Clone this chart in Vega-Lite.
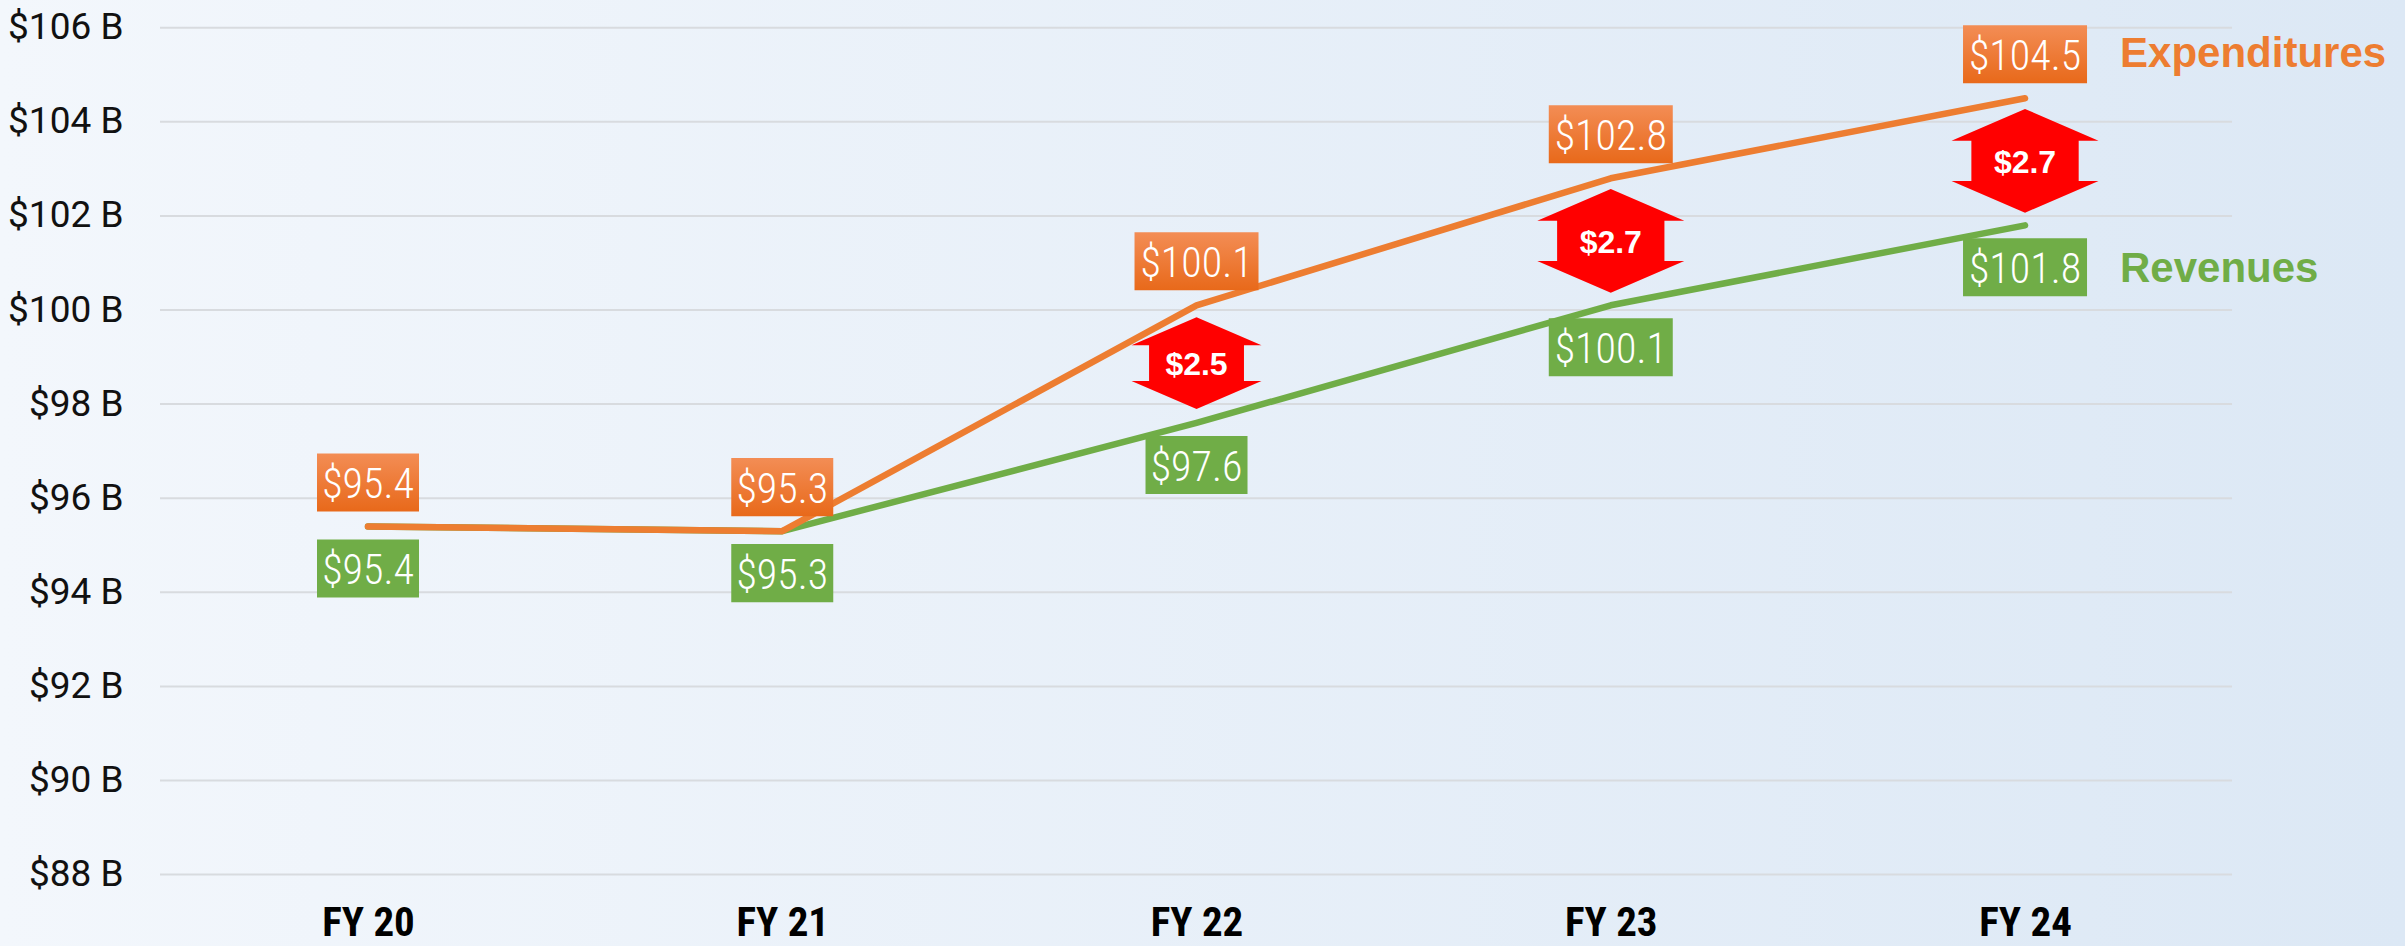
{
  "$schema": "https://vega.github.io/schema/vega-lite/v6.json",
  "width": 2405,
  "height": 946,
  "autosize": {"type": "none"},
  "padding": 0,
  "background": "#E9F0F8",
  "config": {
    "view": {
      "stroke": null,
      "fill": {"gradient": "linear", "x1": 0, "y1": 0, "x2": 1, "y2": 0,
        "stops": [{"offset": 0, "color": "#F3F7FC"}, {"offset": 1, "color": "#DCE8F5"}]}
    }
  },
  "data": {"values": [
    {"year": "FY 20", "series": "Expenditures", "value": 95.4},
    {"year": "FY 21", "series": "Expenditures", "value": 95.3},
    {"year": "FY 22", "series": "Expenditures", "value": 100.1},
    {"year": "FY 23", "series": "Expenditures", "value": 102.8},
    {"year": "FY 24", "series": "Expenditures", "value": 104.5},
    {"year": "FY 20", "series": "Revenues", "value": 95.4},
    {"year": "FY 21", "series": "Revenues", "value": 95.3},
    {"year": "FY 22", "series": "Revenues", "value": 97.6},
    {"year": "FY 23", "series": "Revenues", "value": 100.1},
    {"year": "FY 24", "series": "Revenues", "value": 101.8}
  ]},
  "encoding": {
    "x": {
      "field": "year", "type": "ordinal",
      "scale": {"type": "point", "domain": ["FY 20", "FY 21", "FY 22", "FY 23", "FY 24"], "padding": 0.9028, "align": 0.492},
      "axis": {"title": null, "labelAngle": 0, "domain": false, "ticks": false, "grid": false, "offset": -11, "labelPadding": 0, "labelBaseline": "alphabetic",
        "labelFont": "'Liberation Sans Narrow', 'Roboto Condensed', 'DejaVu Sans Condensed', sans-serif", "labelFontSize": 41, "labelFontWeight": "bold", "labelColor": "#000000"}
    },
    "y": {
      "field": "value", "type": "quantitative",
      "scale": {"domain": [86.4825, 106.589], "zero": false, "nice": false},
      "axis": {"title": null, "values": [88, 90, 92, 94, 96, 98, 100, 102, 104, 106], "labelExpr": "'$' + datum.label + ' B'", "domain": false, "ticks": false, "grid": false, "offset": -160, "labelPadding": 37,
        "labelFont": "Roboto, sans-serif", "labelFontSize": 37, "labelColor": "#111111"}
    }
  },
  "layer": [
    {
      "data": {"values": [{"value": 88}, {"value": 90}, {"value": 92}, {"value": 94}, {"value": 96}, {"value": 98}, {"value": 100}, {"value": 102}, {"value": 104}, {"value": 106}]},
      "mark": {"type": "rule", "color": "#D8DBDF", "strokeWidth": 2, "xOffset": -208, "x2Offset": 207},
      "encoding": {
        "x": {"datum": "FY 20", "type": "ordinal"},
        "x2": {"datum": "FY 24"}
      }
    },
    {
      "transform": [{"filter": "datum.series === 'Revenues'"}],
      "mark": {"type": "line", "color": "#70AD47", "strokeWidth": 6.5, "strokeCap": "round", "strokeJoin": "round"}
    },
    {
      "transform": [{"filter": "datum.series === 'Expenditures'"}],
      "mark": {"type": "line", "color": "#ED7D31", "strokeWidth": 6.5, "strokeCap": "round", "strokeJoin": "round"}
    },
    {
      "transform": [{"filter": "datum.series === 'Expenditures' && datum.value >= 100"}],
      "mark": {"type": "point", "filled": true, "opacity": 1, "strokeWidth": 0, "yOffset": -44, "size": 15376,
        "shape": "M-1,-0.468H1V0.468H-1Z",
        "fill": {"gradient": "linear", "x1": 0, "y1": 0, "x2": 0, "y2": 1, "stops": [{"offset": 0, "color": "#F38D55"}, {"offset": 1, "color": "#E8691A"}]}}
    },
    {
      "transform": [{"filter": "datum.series === 'Expenditures' && datum.value < 100"}],
      "mark": {"type": "point", "filled": true, "opacity": 1, "strokeWidth": 0, "yOffset": -44, "size": 10404,
        "shape": "M-1,-0.569H1V0.569H-1Z",
        "fill": {"gradient": "linear", "x1": 0, "y1": 0, "x2": 0, "y2": 1, "stops": [{"offset": 0, "color": "#F38D55"}, {"offset": 1, "color": "#E8691A"}]}}
    },
    {
      "transform": [{"filter": "datum.series === 'Revenues' && datum.value >= 100"}],
      "mark": {"type": "point", "filled": true, "opacity": 1, "strokeWidth": 0, "yOffset": 42, "size": 15376,
        "shape": "M-1,-0.468H1V0.468H-1Z", "fill": "#70AD47"}
    },
    {
      "transform": [{"filter": "datum.series === 'Revenues' && datum.value < 100"}],
      "mark": {"type": "point", "filled": true, "opacity": 1, "strokeWidth": 0, "yOffset": 42, "size": 10404,
        "shape": "M-1,-0.569H1V0.569H-1Z", "fill": "#70AD47"}
    },
    {
      "transform": [{"filter": "datum.series === 'Expenditures'"}],
      "mark": {"type": "text", "color": "#FFFFFF", "yOffset": -28, "baseline": "alphabetic", "align": "center",
        "font": "'Liberation Sans Narrow', 'Roboto Condensed', 'DejaVu Sans Condensed', sans-serif", "fontSize": 42, "fontWeight": 300},
      "encoding": {"text": {"field": "value", "type": "quantitative", "format": "$.1f"}}
    },
    {
      "transform": [{"filter": "datum.series === 'Revenues'"}],
      "mark": {"type": "text", "color": "#FFFFFF", "yOffset": 58, "baseline": "alphabetic", "align": "center",
        "font": "'Liberation Sans Narrow', 'Roboto Condensed', 'DejaVu Sans Condensed', sans-serif", "fontSize": 42, "fontWeight": 300},
      "encoding": {"text": {"field": "value", "type": "quantitative", "format": "$.1f"}}
    },
    {
      "transform": [
        {"aggregate": [{"op": "mean", "field": "value", "as": "mid"}, {"op": "max", "field": "value", "as": "hi"}, {"op": "min", "field": "value", "as": "lo"}], "groupby": ["year"]},
        {"filter": "datum.hi - datum.lo > 1"},
        {"calculate": "round((datum.hi - datum.lo) * 10) / 10", "as": "gap"}
      ],
      "layer": [
        {
          "mark": {"type": "point", "filled": true, "opacity": 1, "strokeWidth": 0, "fill": "#FF0000", "yOffset": -1,
            "shape": "M0,-0.706L1,-0.274L0.73,-0.274L0.73,0.274L1,0.274L0,0.706L-1,0.274L-0.73,0.274L-0.73,-0.274L-1,-0.274Z"},
          "encoding": {
            "y": {"field": "mid", "type": "quantitative"},
            "size": {"field": "gap", "type": "quantitative", "scale": {"domain": [2.5, 2.7], "range": [16900, 21609]}, "legend": null}
          }
        },
        {
          "mark": {"type": "text", "color": "#FFFFFF", "fontWeight": "bold", "fontSize": 32, "font": "'Liberation Sans', Arial, sans-serif", "baseline": "alphabetic", "yOffset": 11},
          "encoding": {
            "y": {"field": "mid", "type": "quantitative"},
            "text": {"field": "gap", "type": "quantitative", "format": "$.1f"}
          }
        }
      ]
    },
    {
      "transform": [{"filter": "datum.series === 'Expenditures' && datum.year === 'FY 24'"}],
      "mark": {"type": "text", "color": "#ED7D31", "fontWeight": "bold", "fontSize": 42, "font": "'Liberation Sans', Arial, sans-serif", "align": "left", "baseline": "alphabetic", "dx": 95, "yOffset": -31},
      "encoding": {"text": {"field": "series"}}
    },
    {
      "transform": [{"filter": "datum.series === 'Revenues' && datum.year === 'FY 24'"}],
      "mark": {"type": "text", "color": "#70AD47", "fontWeight": "bold", "fontSize": 42, "font": "'Liberation Sans', Arial, sans-serif", "align": "left", "baseline": "alphabetic", "dx": 95, "yOffset": 57},
      "encoding": {"text": {"field": "series"}}
    }
  ]
}
